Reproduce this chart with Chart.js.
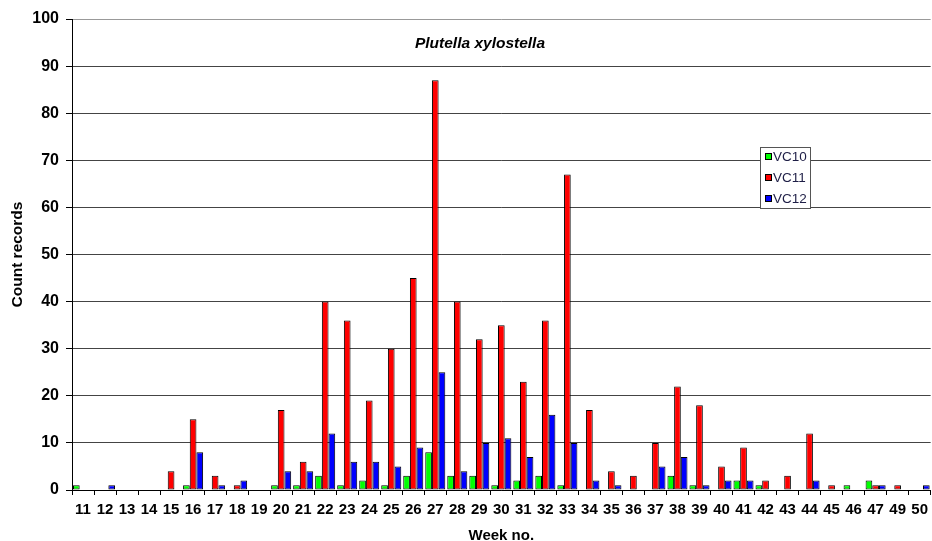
<!DOCTYPE html>
<html>
<head>
<meta charset="utf-8">
<script src="https://cdn.jsdelivr.net/npm/chart.js@4/dist/chart.umd.min.js"></script>
<style>
  html, body { margin: 0; padding: 0; background: #fff; overflow: hidden; }
  #wrap { width: 932px; height: 541px; overflow: hidden; position: relative; }
  #wrap canvas { position: absolute; left: 0; top: 0; }
</style>
</head>
<body>
<div id="wrap"><canvas id="c" width="934" height="548" style="width:934px;height:548px"></canvas></div>
<script>
// Weekly count records of Plutella xylostella per vice-county
const weeks = ['11','12','13','14','15','16','17','18','19','20','21','22','23','24','25','26','27','28','29','30',
               '31','32','33','34','35','36','37','38','39','40','41','42','43','44','45','46','47','49','50'];
const vc10 = [1,0,0,0,0,1,0,0,0,1,1,3,1,2,1,3,8,3,3,1,2,3,1,0,0,0,0,3,1,0,2,1,0,0,0,1,2,0,0];
const vc11 = [0,0,0,0,4,15,3,1,0,17,6,40,36,19,30,45,87,40,32,35,23,36,67,17,4,3,10,22,18,5,9,2,3,12,1,0,1,1,0];
const vc12 = [0,1,0,0,0,8,1,2,0,4,4,12,6,6,5,9,25,4,10,11,7,16,10,2,1,0,5,7,1,2,2,0,0,2,0,0,1,0,1];
const seriesNames = ['VC10','VC11','VC12'];
const seriesColors = ['#00ff00','#ff0000','#0000ff'];
const yTicks = [0,10,20,30,40,50,60,70,80,90,100];

const FONT = "'Liberation Sans', Arial, sans-serif";

// Species name written inside the plot area
const speciesTitle = {
  id: 'speciesTitle',
  afterDraw(chart) {
    const ctx = chart.ctx;
    ctx.save();
    ctx.font = "italic bold 15.5px " + FONT;
    ctx.fillStyle = '#000';
    ctx.textAlign = 'center';
    ctx.textBaseline = 'middle';
    ctx.fillText('Plutella xylostella', 480, 44);
    ctx.restore();
  }
};

// Boxed legend placed over the gridlines on the right
const boxLegend = {
  id: 'boxLegend',
  afterDraw(chart) {
    const ctx = chart.ctx;
    const x = 760.5, y = 147.5, w = 50, h = 61;
    ctx.save();
    ctx.fillStyle = '#fff';
    ctx.fillRect(x, y, w, h);
    ctx.strokeStyle = '#555';
    ctx.lineWidth = 1;
    ctx.strokeRect(x, y, w, h);
    ctx.font = "13.5px " + FONT;
    ctx.textBaseline = 'middle';
    ctx.textAlign = 'left';
    chart.data.datasets.forEach((ds, i) => {
      const cy = 156.5 + i * 21;
      ctx.fillStyle = ds.backgroundColor;
      ctx.fillRect(765.5, cy - 3, 6, 6);
      ctx.strokeStyle = '#000';
      ctx.strokeRect(765.5, cy - 3, 6, 6);
      ctx.fillStyle = '#1e1e46';
      ctx.fillText(ds.label, 773, cy + 0.5);
    });
    ctx.restore();
  }
};

const datasets = [vc10, vc11, vc12].map((vals, i) => ({
  label: seriesNames[i],
  data: vals,
  backgroundColor: seriesColors[i],
  borderColor: '#000',
  borderWidth: 1,
  borderSkipped: false,
  categoryPercentage: 0.91,
  barPercentage: 1.0
}));

new Chart(document.getElementById('c'), {
  type: 'bar',
  data: { labels: weeks, datasets },
  options: {
    responsive: false,
    animation: false,
    devicePixelRatio: 1,
    layout: { padding: { left: 0, right: 1, top: 19, bottom: 0 } },
    plugins: {
      legend: { display: false },
      title: { display: false },
      tooltip: { enabled: false }
    },
    scales: {
      x: {
        offset: true,
        grid: { display: true, offset: true, drawOnChartArea: false, drawTicks: true, tickLength: 5, color: '#000' },
        border: { display: true, color: '#000', width: 1 },
        ticks: { color: '#000', font: { family: FONT, size: 15, weight: 'bold' }, padding: 6, maxRotation: 0, autoSkip: false },
        title: { display: true, text: 'Week no.', color: '#000', font: { family: FONT, size: 15, weight: 'bold' }, padding: { top: 0, bottom: 3 } },
        afterFit(scale) { scale.height = 548 - 490; }
      },
      y: {
        min: 0,
        max: 100,
        afterBuildTicks(scale) { scale.ticks = yTicks.map(v => ({ value: v })); },
        grid: {
          drawTicks: true,
          tickLength: 6,
          tickColor: '#000',
          color: ctx => (ctx.tick && ctx.tick.value === 100) ? '#999' : '#444'
        },
        border: { display: true, color: '#000', width: 1 },
        ticks: { color: '#000', font: { family: FONT, size: 16, weight: 'bold' }, padding: 7 },
        title: { display: true, text: 'Count records', color: '#000', font: { family: FONT, size: 15.5, weight: 'bold' }, padding: { top: 8, bottom: 0 } },
        afterFit(scale) { scale.width = 72; }
      }
    }
  },
  plugins: [speciesTitle, boxLegend]
});
</script>
</body>
</html>
